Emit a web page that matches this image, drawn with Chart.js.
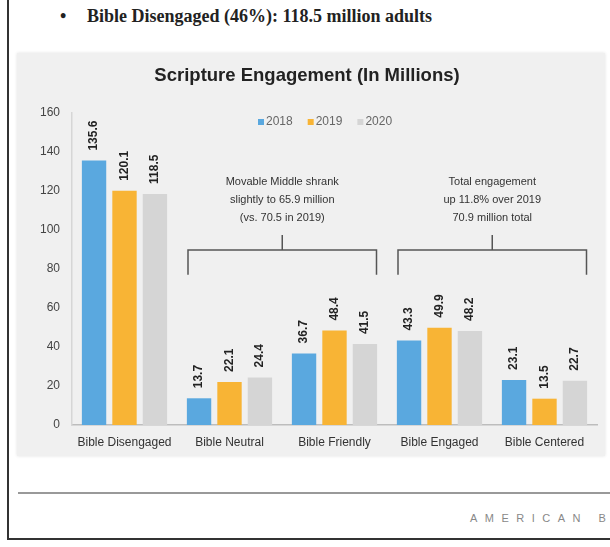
<!DOCTYPE html>
<html>
<head>
<meta charset="utf-8">
<script src="https://cdn.jsdelivr.net/npm/chart.js@4"></script>
<style>
  html, body { margin: 0; overflow: hidden; }
  body { width: 610px; height: 547px; background: #fff; position: relative; font-family: "Liberation Sans", Arial, sans-serif; }
  #frame { position: absolute; left: 7px; top: -5px; width: 603px; height: 545px; border-left: 2px solid #333; border-bottom: 2px solid #333; box-sizing: border-box; }
  #head { position: absolute; left: 60px; top: 6px; font: bold 18px "Liberation Serif", serif; color: #222; white-space: nowrap; }
  #head .dot { display: inline-block; width: 27px; }
  #panel { position: absolute; left: 17px; top: 53px; width: 588px; height: 403px; background: #f0f0f0; box-shadow: 0 0 3px rgba(0,0,0,0.12); }
  #rule { position: absolute; left: 18px; top: 492px; width: 592px; height: 2px; background: #999; }
  #brand { position: absolute; left: 470px; top: 512px; font-size: 11px; letter-spacing: 7.5px; color: #888; white-space: nowrap; }
</style>
</head>
<body>
<div id="frame"></div>
<div id="head"><span class="dot">•</span>Bible Disengaged (46%): 118.5 million adults</div>
<div id="panel"><canvas id="chart" width="588" height="403"></canvas></div>
<div id="rule"></div>
<div id="brand">AMERICAN B</div>

<script>
// data
const categories = ['Bible Disengaged', 'Bible Neutral', 'Bible Friendly', 'Bible Engaged', 'Bible Centered'];
const years = ['2018', '2019', '2020'];
const values2018 = [135.6, 13.7, 36.7, 43.3, 23.1];
const values2019 = [120.1, 22.1, 48.4, 49.9, 13.5];
const values2020 = [118.5, 24.4, 41.5, 48.2, 22.7];
const yMax = 160;
const yStep = 20;

// the two bracket notes (category index range + text lines)
const noteMiddleRange = [1, 2];
const noteMiddleText = ['Movable Middle shrank', 'slightly to 65.9 million', '(vs. 70.5 in 2019)'];
const noteEngagedRange = [3, 4];
const noteEngagedText = ['Total engagement', 'up 11.8% over 2019', '70.9 million total'];

const colors = ['#5aa8df', '#f8b435', '#d5d5d5'];

// value labels, turned on their side above each bar
const barLabels = {
  id: 'barLabels',
  afterDatasetsDraw(chart) {
    const ctx = chart.ctx;
    ctx.save();
    ctx.font = 'bold 12px "Liberation Sans", Arial, sans-serif';
    ctx.fillStyle = '#222';
    ctx.textAlign = 'left';
    ctx.textBaseline = 'middle';
    chart.data.datasets.forEach((ds, i) => {
      chart.getDatasetMeta(i).data.forEach((bar, j) => {
        ctx.save();
        ctx.translate(bar.x, bar.y - 10);
        ctx.rotate(-Math.PI / 2);
        ctx.fillText(ds.data[j].toFixed(1), 0, 0);
        ctx.restore();
      });
    });
    ctx.restore();
  }
};

// legend sits inside the plot, so draw it by hand
const innerLegend = {
  id: 'innerLegend',
  afterDraw(chart) {
    const ctx = chart.ctx;
    ctx.save();
    ctx.font = '12px "Liberation Sans", Arial, sans-serif';
    ctx.textBaseline = 'middle';
    let x = 241;
    const y = 69;
    chart.data.datasets.forEach(ds => {
      ctx.fillStyle = ds.backgroundColor;
      ctx.fillRect(x, y - 3, 6, 6);
      x += 8;
      ctx.fillStyle = '#666';
      ctx.fillText(ds.label, x, y);
      x += ctx.measureText(ds.label).width + 15;
    });
    ctx.restore();
  }
};

// brackets with notes over the middle groups
const brackets = {
  id: 'brackets',
  afterDraw(chart) {
    const ctx = chart.ctx;
    const xs = chart.scales.x;
    const ys = chart.scales.y;
    const notes = [[noteMiddleRange, noteMiddleText], [noteEngagedRange, noteEngagedText]];
    ctx.save();
    ctx.strokeStyle = '#555';
    ctx.lineWidth = 1.5;
    notes.forEach(([range, lines]) => {
      const left = xs.getPixelForValue(range[0]) - 41.5;
      const right = xs.getPixelForValue(range[1]) + 42;
      const mid = (left + right) / 2;
      const yLine = ys.getPixelForValue(89.7);
      const yFoot = ys.getPixelForValue(77);
      const yTop = ys.getPixelForValue(97.5);
      ctx.beginPath();
      ctx.moveTo(left, yFoot);
      ctx.lineTo(left, yLine);
      ctx.lineTo(right, yLine);
      ctx.lineTo(right, yFoot);
      ctx.moveTo(mid, yLine);
      ctx.lineTo(mid, yTop);
      ctx.stroke();

      ctx.fillStyle = '#333';
      ctx.font = '11px "Liberation Sans", Arial, sans-serif';
      ctx.textAlign = 'center';
      ctx.textBaseline = 'middle';
      lines.forEach((t, k) => {
        ctx.fillText(t, mid, yLine - 68 + k * 18);
      });
    });
    ctx.restore();
  }
};

const ctx = document.querySelector('#chart').getContext('2d');
new Chart(ctx, {
  type: 'bar',
  data: {
    labels: categories,
    datasets: [
      { label: years[0], data: values2018, backgroundColor: colors[0] },
      { label: years[1], data: values2019, backgroundColor: colors[1] },
      { label: years[2], data: values2020, backgroundColor: colors[2] }
    ]
  },
  options: {
    responsive: false,
    animation: false,
    devicePixelRatio: 1,
    categoryPercentage: 0.87,
    barPercentage: 0.8,
    layout: { padding: { left: 0, right: 8, top: 0, bottom: 0 } },
    scales: {
      x: {
        afterFit(scale) { scale.height = 31; },
        grid: { display: false, drawTicks: false },
        border: { display: true, color: '#bdbdbd', width: 1.5 },
        ticks: { color: '#333', padding: 10, font: { size: 12, family: '"Liberation Sans", Arial, sans-serif' } }
      },
      y: {
        min: 0,
        max: yMax,
        afterFit(scale) { scale.width = 55; },
        grid: { display: false, drawTicks: false },
        border: { display: true, color: '#d6d6d6', width: 1.5 },
        ticks: { stepSize: yStep, color: '#444', padding: 12, font: { size: 12, family: '"Liberation Sans", Arial, sans-serif' } }
      }
    },
    plugins: {
      legend: { display: false },
      tooltip: { enabled: false },
      title: {
        display: true,
        text: 'Scripture Engagement (In Millions)',
        color: '#222',
        font: { size: 18.5, weight: 'bold', family: '"Liberation Sans", Arial, sans-serif' },
        padding: { top: 12, bottom: 25.8 }
      }
    }
  },
  plugins: [barLabels, innerLegend, brackets]
});
</script>
</body>
</html>
